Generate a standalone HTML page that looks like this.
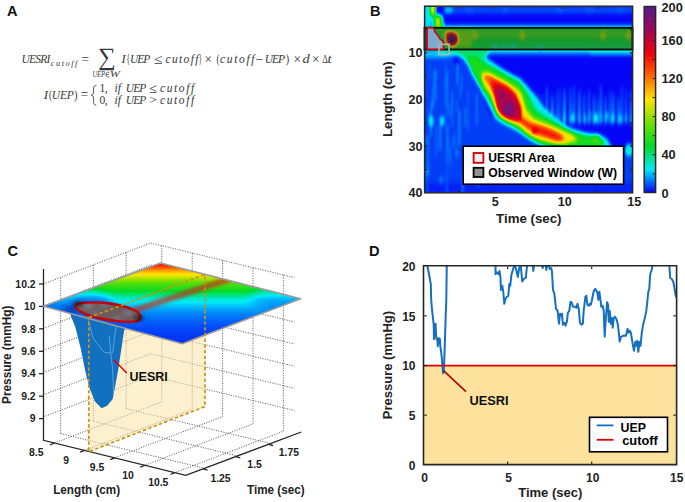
<!DOCTYPE html><html><head><meta charset="utf-8"><style>html,body{margin:0;padding:0;background:#fff;overflow:hidden}svg{display:block}</style></head><body><svg width="685" height="502" viewBox="0 0 685 502"><defs>
<filter id="jetB" filterUnits="userSpaceOnUse" x="400" y="-20" width="260" height="240" color-interpolation-filters="sRGB"><feGaussianBlur stdDeviation="1.25 2.2"/><feComponentTransfer><feFuncR type="table" tableValues="0.020 0.000 0.000 0.450 1.000 1.000 0.950 0.620 0.360"/><feFuncG type="table" tableValues="0.020 0.920 0.860 0.880 0.900 0.400 0.000 0.030 0.100"/><feFuncB type="table" tableValues="0.970 0.980 0.150 0.000 0.000 0.000 0.050 0.350 0.550"/></feComponentTransfer></filter>
<filter id="blB" x="-50%" y="-50%" width="200%" height="200%"><feGaussianBlur stdDeviation="1.2"/></filter>
<clipPath id="clipB"><rect x="425" y="7" width="207" height="185"/></clipPath>
<linearGradient id="cbar" x1="0" y1="1" x2="0" y2="0"><stop offset="0.000" stop-color="rgb(5,5,247)"/><stop offset="0.125" stop-color="rgb(0,234,249)"/><stop offset="0.250" stop-color="rgb(0,219,38)"/><stop offset="0.375" stop-color="rgb(114,224,0)"/><stop offset="0.500" stop-color="rgb(255,229,0)"/><stop offset="0.625" stop-color="rgb(255,102,0)"/><stop offset="0.750" stop-color="rgb(242,0,12)"/><stop offset="0.875" stop-color="rgb(158,7,89)"/><stop offset="1.000" stop-color="rgb(91,25,140)"/></linearGradient>
<clipPath id="clipD"><rect x="424" y="266" width="252" height="199"/></clipPath>
</defs>
<rect width="685" height="502" fill="#fff"/>
<text x="7.0" y="16.1" font-size="14.6" text-anchor="start" fill="#111" font-family="Liberation Sans, sans-serif" font-weight="bold" >A</text>
<text x="21.6" y="63.2" font-size="11.5" fill="#383838" font-family="Liberation Serif, serif" font-style="italic" textLength="28.8" lengthAdjust="spacing">UESRI</text>
<text x="121.4" y="63.2" font-size="11.5" fill="#383838" font-family="Liberation Serif, serif" font-style="italic" textLength="4.2" lengthAdjust="spacingAndGlyphs">I</text>
<text x="130.0" y="63.2" font-size="11.5" fill="#383838" font-family="Liberation Serif, serif" font-style="italic" textLength="20.3" lengthAdjust="spacing">UEP</text>
<text x="165.6" y="63.2" font-size="11.5" fill="#383838" font-family="Liberation Serif, serif" font-style="italic" textLength="32.8" lengthAdjust="spacing">cutoff</text>
<text x="220.0" y="63.2" font-size="11.5" fill="#383838" font-family="Liberation Serif, serif" font-style="italic" textLength="34.5" lengthAdjust="spacing">cutoff</text>
<text x="264.8" y="63.2" font-size="11.5" fill="#383838" font-family="Liberation Serif, serif" font-style="italic" textLength="20.2" lengthAdjust="spacing">UEP</text>
<text x="302.6" y="63.2" font-size="11.5" fill="#383838" font-family="Liberation Serif, serif" font-style="italic" textLength="7.2" lengthAdjust="spacingAndGlyphs">d</text>
<text x="327.6" y="63.2" font-size="11.5" fill="#383838" font-family="Liberation Serif, serif" font-style="italic" textLength="4.0" lengthAdjust="spacingAndGlyphs">t</text>
<text x="126.6" y="63.2" font-size="11.5" fill="#383838" font-family="Liberation Serif, serif" textLength="3.4" lengthAdjust="spacingAndGlyphs">{</text>
<text x="198.8" y="63.2" font-size="11.5" fill="#383838" font-family="Liberation Serif, serif" textLength="3.2" lengthAdjust="spacingAndGlyphs">}</text>
<text x="216.4" y="63.2" font-size="11.5" fill="#383838" font-family="Liberation Serif, serif" textLength="3.0" lengthAdjust="spacingAndGlyphs">(</text>
<text x="285.8" y="63.2" font-size="11.5" fill="#383838" font-family="Liberation Serif, serif" textLength="3.4" lengthAdjust="spacingAndGlyphs">)</text>
<text x="322.2" y="63.2" font-size="11.5" fill="#383838" font-family="Liberation Serif, serif" textLength="5.6" lengthAdjust="spacingAndGlyphs">&#916;</text>
<text x="154.0" y="63.8" font-size="14.0" fill="#383838" font-family="Liberation Serif, serif" textLength="8.5" lengthAdjust="spacingAndGlyphs">&#8804;</text>
<text x="204.6" y="63.8" font-size="14.0" fill="#383838" font-family="Liberation Serif, serif" textLength="7.4" lengthAdjust="spacingAndGlyphs">&#215;</text>
<text x="255.8" y="63.8" font-size="14.0" fill="#383838" font-family="Liberation Serif, serif" textLength="7.4" lengthAdjust="spacingAndGlyphs">&#8722;</text>
<text x="293.5" y="63.8" font-size="14.0" fill="#383838" font-family="Liberation Serif, serif" textLength="7.5" lengthAdjust="spacingAndGlyphs">&#215;</text>
<text x="312.0" y="63.8" font-size="14.0" fill="#383838" font-family="Liberation Serif, serif" textLength="7.5" lengthAdjust="spacingAndGlyphs">&#215;</text>
<text x="81.4" y="63.7" font-size="14.0" fill="#383838" font-family="Liberation Serif, serif" textLength="7.4" lengthAdjust="spacingAndGlyphs">=</text>
<text x="50.8" y="66.0" font-size="8.3" fill="#383838" font-family="Liberation Serif, serif" font-style="italic" textLength="26.6" lengthAdjust="spacing">cutoff</text>
<text x="98.0" y="65.2" font-size="24.9" fill="#383838" font-family="Liberation Serif, serif">&#8721;</text>
<text x="92.4" y="76.9" font-size="7.8" fill="#383838" font-family="Liberation Serif, serif" font-style="italic" textLength="12.6" lengthAdjust="spacingAndGlyphs">UEP</text>
<text x="109.8" y="76.9" font-size="7.8" fill="#383838" font-family="Liberation Serif, serif" font-style="italic" textLength="10.2" lengthAdjust="spacingAndGlyphs">W</text>
<path d="M109.4,72.3 H107.7 C106.4,72.3 105.9,73.5 105.9,74.6 C105.9,75.7 106.4,76.9 107.7,76.9 H109.4 M106.0,74.6 H109.0" fill="none" stroke="#383838" stroke-width="0.75"/>
<text x="43.8" y="98.7" font-size="11.5" fill="#383838" font-family="Liberation Serif, serif" font-style="italic" textLength="4.4" lengthAdjust="spacingAndGlyphs">I</text>
<text x="48.9" y="98.7" font-size="11.5" fill="#383838" font-family="Liberation Serif, serif" textLength="3.0" lengthAdjust="spacingAndGlyphs">(</text>
<text x="51.8" y="98.7" font-size="11.5" fill="#383838" font-family="Liberation Serif, serif" font-style="italic" textLength="21.9" lengthAdjust="spacing">UEP</text>
<text x="73.9" y="98.7" font-size="11.5" fill="#383838" font-family="Liberation Serif, serif" textLength="3.5" lengthAdjust="spacingAndGlyphs">)</text>
<text x="80.7" y="99.2" font-size="14.0" fill="#383838" font-family="Liberation Serif, serif" textLength="7.4" lengthAdjust="spacingAndGlyphs">=</text>
<path d="M96.3,85.3 C93.2,85.6 93.6,88 93.6,91 C93.6,93.6 93.2,95 91.2,95.3 C93.2,95.6 93.6,97 93.6,99.6 C93.6,102.6 93.2,104.9 96.3,105.2" fill="none" stroke="#383838" stroke-width="0.9"/>
<text x="99.4" y="92.1" font-size="11.5" fill="#383838" font-family="Liberation Serif, serif" textLength="8.3" lengthAdjust="spacing">1,</text>
<text x="114.6" y="92.1" font-size="11.5" fill="#383838" font-family="Liberation Serif, serif" font-style="italic">if</text>
<text x="125.8" y="92.1" font-size="11.5" fill="#383838" font-family="Liberation Serif, serif" font-style="italic" textLength="20.5" lengthAdjust="spacing">UEP</text>
<text x="149.3" y="92.6" font-size="13.5" fill="#383838" font-family="Liberation Serif, serif" textLength="7.5" lengthAdjust="spacingAndGlyphs">&#8804;</text>
<text x="160.0" y="92.1" font-size="11.5" fill="#383838" font-family="Liberation Serif, serif" font-style="italic" textLength="34.2" lengthAdjust="spacing">cutoff</text>
<text x="99.4" y="103.8" font-size="11.5" fill="#383838" font-family="Liberation Serif, serif" textLength="8.3" lengthAdjust="spacing">0,</text>
<text x="114.6" y="103.8" font-size="11.5" fill="#383838" font-family="Liberation Serif, serif" font-style="italic">if</text>
<text x="125.8" y="103.8" font-size="11.5" fill="#383838" font-family="Liberation Serif, serif" font-style="italic" textLength="20.5" lengthAdjust="spacing">UEP</text>
<text x="149.3" y="104.3" font-size="13.5" fill="#383838" font-family="Liberation Serif, serif" textLength="7.5" lengthAdjust="spacingAndGlyphs">&gt;</text>
<text x="160.0" y="103.8" font-size="11.5" fill="#383838" font-family="Liberation Serif, serif" font-style="italic" textLength="34.2" lengthAdjust="spacing">cutoff</text>
<text x="370.0" y="16.2" font-size="14.6" text-anchor="start" fill="#111" font-family="Liberation Sans, sans-serif" font-weight="bold" >B</text>
<g clip-path="url(#clipB)"><g filter="url(#jetB)">
<rect x="405" y="-15" width="250" height="225" fill="#000000"/>
<polygon points="405.0,50.0 452.0,50.0 468.0,65.0 480.0,90.0 490.0,115.0 505.0,126.0 530.0,140.0 560.0,150.0 640.0,150.0 640.0,210.0 405.0,210.0" fill="#080808"/>
<rect x="405" y="183" width="250" height="30" fill="#040404"/>
<rect x="443.8" y="74.1" width="1.8" height="29.5" fill="#0c0c0c"/>
<rect x="456.1" y="99.9" width="1.8" height="11.7" fill="#101010"/>
<rect x="427.2" y="108.0" width="1.8" height="12.1" fill="#0c0c0c"/>
<rect x="449.6" y="155.2" width="1.8" height="13.7" fill="#0d0d0d"/>
<rect x="461.4" y="169.7" width="1.8" height="27.3" fill="#0f0f0f"/>
<rect x="481.6" y="61.6" width="1.8" height="35.8" fill="#0e0e0e"/>
<rect x="433.4" y="70.1" width="1.8" height="19.3" fill="#131313"/>
<rect x="435.5" y="125.8" width="1.8" height="29.2" fill="#0f0f0f"/>
<rect x="456.8" y="63.5" width="1.8" height="11.8" fill="#0d0d0d"/>
<rect x="464.5" y="107.3" width="1.8" height="19.4" fill="#111111"/>
<rect x="451.3" y="92.0" width="1.8" height="33.8" fill="#121212"/>
<rect x="439.2" y="124.9" width="1.8" height="25.8" fill="#131313"/>
<rect x="467.3" y="90.6" width="1.8" height="39.4" fill="#0d0d0d"/>
<rect x="449.3" y="146.9" width="1.8" height="14.6" fill="#101010"/>
<rect x="427.3" y="136.2" width="1.8" height="32.9" fill="#111111"/>
<rect x="475.8" y="93.6" width="1.8" height="30.9" fill="#111111"/>
<rect x="458.6" y="110.7" width="1.8" height="35.2" fill="#141414"/>
<rect x="452.5" y="135.7" width="1.8" height="11.8" fill="#121212"/>
<rect x="462.5" y="175.2" width="1.8" height="34.7" fill="#0e0e0e"/>
<rect x="447.4" y="136.2" width="1.8" height="10.7" fill="#101010"/>
<rect x="434.7" y="70.1" width="1.8" height="11.8" fill="#121212"/>
<rect x="432.5" y="85.7" width="1.8" height="21.7" fill="#131313"/>
<rect x="429.7" y="109.9" width="1.8" height="26.5" fill="#131313"/>
<rect x="472.5" y="159.7" width="1.8" height="18.4" fill="#0f0f0f"/>
<rect x="445.8" y="162.1" width="1.8" height="38.7" fill="#0d0d0d"/>
<rect x="435.2" y="83.8" width="1.8" height="17.0" fill="#101010"/>
<rect x="459.2" y="87.5" width="1.8" height="10.1" fill="#0f0f0f"/>
<rect x="446.4" y="124.0" width="1.8" height="38.6" fill="#121212"/>
<rect x="454.9" y="130.1" width="1.8" height="30.3" fill="#0c0c0c"/>
<rect x="477.2" y="149.6" width="1.8" height="36.2" fill="#131313"/>
<rect x="447.8" y="103.9" width="1.8" height="13.1" fill="#111111"/>
<rect x="428.6" y="64.1" width="1.8" height="16.3" fill="#0d0d0d"/>
<rect x="444.7" y="62.3" width="1.8" height="10.0" fill="#0d0d0d"/>
<rect x="430.9" y="99.6" width="1.8" height="10.8" fill="#131313"/>
<rect x="460.6" y="73.8" width="1.8" height="17.6" fill="#0f0f0f"/>
<rect x="446.1" y="70.7" width="1.8" height="35.5" fill="#141414"/>
<rect x="452.0" y="114.1" width="1.8" height="12.6" fill="#0c0c0c"/>
<rect x="444.9" y="87.8" width="1.8" height="34.9" fill="#0d0d0d"/>
<rect x="426.3" y="170.1" width="1.8" height="25.8" fill="#0d0d0d"/>
<rect x="456.5" y="59.2" width="1.8" height="25.8" fill="#141414"/>
<linearGradient id="strk" x1="0" y1="0" x2="0" y2="1"><stop offset="0" stop-color="#080808"/><stop offset="0.55" stop-color="#171717"/><stop offset="1" stop-color="#2b2b2b"/></linearGradient>
<rect x="537.0" y="93.1" width="2.6" height="31.4" fill="url(#strk)" fill-opacity="0.70"/>
<rect x="541.4" y="94.4" width="1.7" height="30.1" fill="url(#strk)" fill-opacity="0.81"/>
<rect x="545.9" y="85.6" width="1.9" height="38.9" fill="url(#strk)" fill-opacity="0.92"/>
<rect x="551.0" y="94.9" width="2.6" height="29.6" fill="url(#strk)" fill-opacity="0.93"/>
<rect x="556.2" y="90.3" width="1.8" height="34.2" fill="url(#strk)" fill-opacity="0.74"/>
<rect x="559.1" y="86.5" width="1.5" height="38.0" fill="url(#strk)" fill-opacity="0.70"/>
<rect x="563.1" y="89.2" width="2.7" height="35.3" fill="url(#strk)" fill-opacity="0.97"/>
<rect x="569.0" y="87.8" width="2.7" height="36.7" fill="url(#strk)" fill-opacity="0.69"/>
<rect x="573.3" y="85.3" width="1.8" height="39.2" fill="url(#strk)" fill-opacity="0.85"/>
<rect x="578.0" y="89.7" width="2.6" height="34.8" fill="url(#strk)" fill-opacity="0.86"/>
<rect x="583.4" y="92.6" width="1.6" height="31.9" fill="url(#strk)" fill-opacity="0.96"/>
<rect x="587.7" y="89.6" width="2.5" height="34.9" fill="url(#strk)" fill-opacity="0.67"/>
<rect x="592.9" y="94.8" width="1.9" height="29.7" fill="url(#strk)" fill-opacity="0.99"/>
<rect x="596.7" y="97.1" width="2.0" height="27.4" fill="url(#strk)" fill-opacity="0.89"/>
<rect x="600.1" y="84.4" width="1.7" height="40.1" fill="url(#strk)" fill-opacity="0.96"/>
<rect x="604.5" y="95.2" width="1.7" height="29.3" fill="url(#strk)" fill-opacity="0.99"/>
<rect x="608.7" y="90.8" width="2.0" height="33.7" fill="url(#strk)" fill-opacity="0.65"/>
<rect x="611.7" y="92.4" width="2.8" height="32.1" fill="url(#strk)" fill-opacity="0.81"/>
<rect x="617.5" y="95.9" width="2.1" height="28.6" fill="url(#strk)" fill-opacity="0.93"/>
<rect x="621.0" y="86.7" width="1.8" height="37.8" fill="url(#strk)" fill-opacity="0.70"/>
<rect x="625.1" y="88.7" width="1.8" height="35.8" fill="url(#strk)" fill-opacity="0.65"/>
<rect x="630.0" y="89.3" width="2.0" height="35.2" fill="url(#strk)" fill-opacity="0.83"/>
<ellipse cx="573.0" cy="118.0" rx="1.4" ry="4.5" fill="#212121"/>
<ellipse cx="579.0" cy="117.0" rx="1.4" ry="4.5" fill="#1a1a1a"/>
<ellipse cx="585.0" cy="119.0" rx="1.4" ry="4.5" fill="#1c1c1c"/>
<ellipse cx="596.0" cy="118.0" rx="1.4" ry="4.5" fill="#242424"/>
<ellipse cx="601.0" cy="117.0" rx="1.4" ry="4.5" fill="#1f1f1f"/>
<ellipse cx="613.0" cy="118.0" rx="1.4" ry="4.5" fill="#242424"/>
<ellipse cx="620.0" cy="119.0" rx="1.4" ry="4.5" fill="#1c1c1c"/>
<ellipse cx="590.0" cy="116.0" rx="1.4" ry="4.5" fill="#171717"/>
<ellipse cx="607.0" cy="116.0" rx="1.4" ry="4.5" fill="#1a1a1a"/>
<ellipse cx="626.0" cy="118.0" rx="1.4" ry="4.5" fill="#1a1a1a"/>
<rect x="443" y="6" width="200" height="7.5" fill="#0a0a0a"/>
<ellipse cx="448.8" cy="10" rx="4.2" ry="3.2" fill="#1c1c1c"/>
<ellipse cx="470" cy="10" rx="5" ry="3" fill="#0d0d0d"/>
<ellipse cx="505" cy="10" rx="5" ry="3" fill="#0d0d0d"/>
<ellipse cx="560" cy="10" rx="5" ry="3" fill="#0d0d0d"/>
<ellipse cx="590" cy="10" rx="5" ry="3" fill="#0d0d0d"/>
<ellipse cx="620" cy="10" rx="5" ry="3" fill="#0d0d0d"/>
<rect x="440" y="24.5" width="200" height="3" fill="#0e0e0e"/>
<rect x="440" y="50" width="200" height="5" fill="#121212"/>
<rect x="590" y="50" width="50" height="5" fill="#1a1a1a"/>
<polygon points="563,123.5 640,123.5 640,143 608,143 600,133.5 575,133.5 566,130" fill="#000000"/>
<ellipse cx="431" cy="121" rx="2.6" ry="6" fill="#212121"/>
<ellipse cx="442" cy="121" rx="2.6" ry="5" fill="#1f1f1f"/>
<ellipse cx="457" cy="153" rx="2.5" ry="4" fill="#0f0f0f"/>
<ellipse cx="427" cy="172" rx="2.5" ry="4" fill="#131313"/>
<ellipse cx="441" cy="180" rx="2.5" ry="4" fill="#0f0f0f"/>
<ellipse cx="426" cy="140" rx="2.5" ry="4" fill="#0f0f0f"/>
<rect x="405" y="-10" width="26.5" height="38" fill="#1f1f1f"/>
<rect x="430" y="-10" width="5.5" height="26" fill="#4c4c4c"/>
<rect x="431.2" y="-10" width="3.3" height="24.5" fill="#808080"/>
<polygon points="431,16 436,15 443,16 445,28 432,28" fill="#1f1f1f"/>
<polygon points="433.5,15.5 441,16 442.5,28 434.5,28" fill="#4c4c4c"/>
<polygon points="435.8,17 439.6,17 440.2,27 436.4,27" fill="#737373"/>
<ellipse cx="456.4" cy="60.8" rx="3" ry="3" fill="#000000"/>
<polygon points="424,50 470,50 462,54 446,57.5 424,58" fill="#1a1a1a"/>
<polygon points="436,50 462,50 456,54 444,55.5 438,55" fill="#262626"/>
<polygon points="444.0,50.0 478.5,50.0 478.5,51.5 489.0,59.7 500.7,67.9 512.4,74.9 520.0,78.4 527.0,86.0 534.9,95.0 543.0,106.7 552.4,114.9 558.0,119.5 563.0,124.0 570.0,128.0 585.0,133.0 600.0,135.0 607.0,139.0 611.0,146.0 612.0,152.0 560.0,152.0 545.4,147.0 536.0,142.9 524.4,135.9 515.0,130.0 503.4,124.2 495.2,118.4 489.3,106.7 483.5,95.0 480.9,90.0 476.2,81.9 471.5,73.7 468.0,65.5 463.4,58.5 451.7,51.5" fill="#242424"/>
<polygon points="450,50 490,50 486,56 479,61 468,63 461,56" fill="#333333"/>
<polygon points="467.0,57.0 477.0,57.0 480.0,60.0 489.0,65.5 501.9,72.5 514.7,79.5 520.0,83.0 527.9,95.0 534.9,110.2 545.4,117.2 554.0,122.0 562.0,127.0 572.0,132.5 590.0,136.0 600.0,138.0 604.0,141.0 602.0,147.0 570.0,147.0 541.9,144.0 530.2,138.2 522.0,131.2 510.4,124.2 497.5,117.2 492.8,106.7 487.0,95.0 483.2,91.2 478.5,81.9 472.7,71.4 468.5,61.0" fill="#474747"/>
<ellipse cx="596" cy="139" rx="4" ry="3.5" fill="#545454"/>
<ellipse cx="629" cy="150" rx="4" ry="6" fill="#242424"/>
<polygon points="482.0,72.5 486.7,72.0 500.7,78.4 512.4,85.4 520.0,91.0 522.0,95.0 526.7,110.2 533.7,118.4 545.4,123.0 560.0,128.9 572.0,134.0 578.0,140.0 565.0,144.5 554.7,144.0 538.4,139.4 526.7,133.5 518.5,125.4 503.4,118.4 496.4,110.2 490.5,95.0 484.4,86.5 480.9,74.9" fill="#808080"/>
<polygon points="486.0,75.5 492.0,76.5 496.0,79.5 507.7,85.4 516.0,94.0 519.5,106.7 521.5,117.2 530.2,123.0 543.0,126.5 554.7,131.2 561.0,135.0 565.0,139.5 558.0,141.0 555.9,140.5 538.4,134.7 529.0,128.9 520.9,123.0 509.2,119.5 499.5,112.5 494.0,95.0 489.5,84.0 485.0,78.4" fill="#b8b8b8"/>
<ellipse cx="488.5" cy="78" rx="4.5" ry="3.5" fill="#a3a3a3"/>
<polygon points="493.5,85.0 503.0,87.0 512.0,93.0 518.0,100.0 521.0,108.0 521.5,117.0 517.0,120.5 510.0,120.0 501.0,115.0 497.5,109.0 495.5,99.0" fill="#d6d6d6"/>
<ellipse cx="534.9" cy="131.2" rx="3" ry="2.5" fill="#d6d6d6"/>
<ellipse cx="508.5" cy="109" rx="5.5" ry="7" fill="#f2f2f2"/>
<ellipse cx="502" cy="96" rx="3" ry="4" fill="#e6e6e6"/>
<rect x="405" y="28" width="250" height="10" fill="#4f4f4f"/>
<rect x="405" y="38" width="250" height="12" fill="#3e3e3e"/>
<rect x="458" y="28" width="14" height="20" fill="#5c5c5c"/>
<ellipse cx="495.0" cy="46.5" rx="3.5" ry="2" fill="#2b2b2b"/>
<ellipse cx="505.0" cy="47.0" rx="3.5" ry="2" fill="#2b2b2b"/>
<ellipse cx="514.0" cy="46.5" rx="3.5" ry="2" fill="#2b2b2b"/>
<ellipse cx="540.0" cy="47.5" rx="3.5" ry="2" fill="#2b2b2b"/>
<ellipse cx="475.0" cy="35" rx="3" ry="5" fill="#6b6b6b"/>
<ellipse cx="522.6" cy="35" rx="3" ry="5" fill="#6b6b6b"/>
<ellipse cx="603.0" cy="35" rx="3" ry="5" fill="#6b6b6b"/>
<ellipse cx="628.6" cy="35" rx="3" ry="5" fill="#6b6b6b"/>
<polygon points="424,28 434,28 444,42 444,50 424,50" fill="#121212"/>
<path d="M444.5,36 C444,31 449,30.5 452,31 C457,31.5 459.5,35 459,40 C458.8,44 457,47 452.5,47 C448.5,47 445.5,44 445,41 Z" fill="#999999"/>
<path d="M446.5,36.5 C446.5,33 449.5,32.5 452,33 C456,33.5 457.5,36 457,40 C456.8,43 455.5,45 452.5,45 C449.5,45 447.5,43 447,40.5 Z" fill="#d6d6d6"/>
<ellipse cx="452" cy="39.6" rx="3.6" ry="4.3" fill="#ffffff"/>
</g></g>
<rect x="425" y="28" width="207" height="21.5" fill="#383838" fill-opacity="0.4"/>
<rect x="424.5" y="27.8" width="208" height="21.7" fill="none" stroke="#000" stroke-width="1.8"/>
<ellipse cx="452" cy="39.6" rx="3.5" ry="4" fill="#100020" fill-opacity="0.35" filter="url(#blB)"/>
<polygon points="427.1,27.7 433.5,27.7 434.5,30.8 435.5,32.5 438.2,35.8 440.3,39.2 442.3,40.6 443.3,42.3 443.7,49.4 427.1,49.4" fill="#e8ecf0" fill-opacity="0.5" stroke="#d40000" stroke-width="1.7"/>
<rect x="438.9" y="44.3" width="10.2" height="10.2" fill="none" stroke="#b0b0b0" stroke-width="1.6"/>
<rect x="424.6" y="6.2" width="208" height="186.6" fill="none" stroke="#262626" stroke-width="1.5"/>
<line x1="458.9" y1="192" x2="458.9" y2="190" stroke="#262626" stroke-width="1.2"/>
<line x1="458.9" y1="7" x2="458.9" y2="9" stroke="#262626" stroke-width="1.2"/>
<line x1="493.1" y1="192" x2="493.1" y2="190" stroke="#262626" stroke-width="1.2"/>
<line x1="493.1" y1="7" x2="493.1" y2="9" stroke="#262626" stroke-width="1.2"/>
<line x1="528.0" y1="192" x2="528.0" y2="190" stroke="#262626" stroke-width="1.2"/>
<line x1="528.0" y1="7" x2="528.0" y2="9" stroke="#262626" stroke-width="1.2"/>
<line x1="562.7" y1="192" x2="562.7" y2="190" stroke="#262626" stroke-width="1.2"/>
<line x1="562.7" y1="7" x2="562.7" y2="9" stroke="#262626" stroke-width="1.2"/>
<line x1="597.5" y1="192" x2="597.5" y2="190" stroke="#262626" stroke-width="1.2"/>
<line x1="597.5" y1="7" x2="597.5" y2="9" stroke="#262626" stroke-width="1.2"/>
<line x1="425" y1="29.4" x2="427" y2="29.4" stroke="#262626" stroke-width="1.2"/>
<line x1="632" y1="29.4" x2="630" y2="29.4" stroke="#262626" stroke-width="1.2"/>
<line x1="425" y1="52.8" x2="427" y2="52.8" stroke="#262626" stroke-width="1.2"/>
<line x1="632" y1="52.8" x2="630" y2="52.8" stroke="#262626" stroke-width="1.2"/>
<line x1="425" y1="76.1" x2="427" y2="76.1" stroke="#262626" stroke-width="1.2"/>
<line x1="632" y1="76.1" x2="630" y2="76.1" stroke="#262626" stroke-width="1.2"/>
<line x1="425" y1="99.5" x2="427" y2="99.5" stroke="#262626" stroke-width="1.2"/>
<line x1="632" y1="99.5" x2="630" y2="99.5" stroke="#262626" stroke-width="1.2"/>
<line x1="425" y1="122.9" x2="427" y2="122.9" stroke="#262626" stroke-width="1.2"/>
<line x1="632" y1="122.9" x2="630" y2="122.9" stroke="#262626" stroke-width="1.2"/>
<line x1="425" y1="146.2" x2="427" y2="146.2" stroke="#262626" stroke-width="1.2"/>
<line x1="632" y1="146.2" x2="630" y2="146.2" stroke="#262626" stroke-width="1.2"/>
<line x1="425" y1="169.6" x2="427" y2="169.6" stroke="#262626" stroke-width="1.2"/>
<line x1="632" y1="169.6" x2="630" y2="169.6" stroke="#262626" stroke-width="1.2"/>
<text x="422.5" y="57.1" font-size="12.6" text-anchor="end" fill="#222" font-family="Liberation Sans, sans-serif" font-weight="bold" >10</text>
<text x="422.5" y="103.9" font-size="12.6" text-anchor="end" fill="#222" font-family="Liberation Sans, sans-serif" font-weight="bold" >20</text>
<text x="422.5" y="150.7" font-size="12.6" text-anchor="end" fill="#222" font-family="Liberation Sans, sans-serif" font-weight="bold" >30</text>
<text x="422.5" y="197.4" font-size="12.6" text-anchor="end" fill="#222" font-family="Liberation Sans, sans-serif" font-weight="bold" >40</text>
<text x="495.2" y="206.0" font-size="12.6" text-anchor="middle" fill="#222" font-family="Liberation Sans, sans-serif" font-weight="bold" >5</text>
<text x="564.8" y="206.0" font-size="12.6" text-anchor="middle" fill="#222" font-family="Liberation Sans, sans-serif" font-weight="bold" >10</text>
<text x="634.2" y="206.0" font-size="12.6" text-anchor="middle" fill="#222" font-family="Liberation Sans, sans-serif" font-weight="bold" >15</text>
<text x="528.8" y="223.3" font-size="12.8" text-anchor="middle" fill="#222" font-family="Liberation Sans, sans-serif" font-weight="bold" textLength="65.4" lengthAdjust="spacingAndGlyphs">Time (sec)</text>
<text x="0.0" y="0.0" font-size="12.8" text-anchor="middle" fill="#222" font-family="Liberation Sans, sans-serif" font-weight="bold" transform="translate(392.4,99.2) rotate(-90)" textLength="75.5" lengthAdjust="spacingAndGlyphs">Length (cm)</text>
<rect x="463.2" y="146.2" width="160.4" height="38" fill="#fff" stroke="#000" stroke-width="1.6"/>
<rect x="473.6" y="153" width="9.8" height="9.8" fill="#f3eaea" stroke="#cc0000" stroke-width="1.8"/>
<rect x="473.6" y="167.8" width="9.8" height="9.2" fill="#939393" stroke="#000" stroke-width="1.8"/>
<text x="488.2" y="161.8" font-size="12.6" text-anchor="start" font-family="Liberation Sans, sans-serif" font-weight="bold" textLength="66.6" lengthAdjust="spacingAndGlyphs" fill="#000">UESRI Area</text>
<text x="488.2" y="176.6" font-size="12.6" text-anchor="start" font-family="Liberation Sans, sans-serif" font-weight="bold" textLength="128.8" lengthAdjust="spacingAndGlyphs" fill="#000">Observed Window (W)</text>
<rect x="644.2" y="6.5" width="11.4" height="186" fill="url(#cbar)" stroke="#262626" stroke-width="1.5"/>
<line x1="654.8" y1="173.8" x2="652.6" y2="173.8" stroke="#262626" stroke-width="1.1"/>
<line x1="654.8" y1="154.7" x2="652.6" y2="154.7" stroke="#262626" stroke-width="1.1"/>
<line x1="654.8" y1="135.7" x2="652.6" y2="135.7" stroke="#262626" stroke-width="1.1"/>
<line x1="654.8" y1="116.6" x2="652.6" y2="116.6" stroke="#262626" stroke-width="1.1"/>
<line x1="654.8" y1="97.6" x2="652.6" y2="97.6" stroke="#262626" stroke-width="1.1"/>
<line x1="654.8" y1="78.5" x2="652.6" y2="78.5" stroke="#262626" stroke-width="1.1"/>
<line x1="654.8" y1="59.5" x2="652.6" y2="59.5" stroke="#262626" stroke-width="1.1"/>
<line x1="654.8" y1="40.4" x2="652.6" y2="40.4" stroke="#262626" stroke-width="1.1"/>
<line x1="654.8" y1="21.3" x2="652.6" y2="21.3" stroke="#262626" stroke-width="1.1"/>
<text x="661.5" y="198.1" font-size="12.8" text-anchor="start" fill="#222" font-family="Liberation Sans, sans-serif" font-weight="bold" >0</text>
<text x="661.5" y="159.4" font-size="12.8" text-anchor="start" fill="#222" font-family="Liberation Sans, sans-serif" font-weight="bold" >40</text>
<text x="661.5" y="121.3" font-size="12.8" text-anchor="start" fill="#222" font-family="Liberation Sans, sans-serif" font-weight="bold" >80</text>
<text x="661.5" y="83.2" font-size="12.8" text-anchor="start" fill="#222" font-family="Liberation Sans, sans-serif" font-weight="bold" >120</text>
<text x="661.5" y="45.2" font-size="12.8" text-anchor="start" fill="#222" font-family="Liberation Sans, sans-serif" font-weight="bold" >160</text>
<text x="661.5" y="11.8" font-size="12.8" text-anchor="start" fill="#222" font-family="Liberation Sans, sans-serif" font-weight="bold" >200</text>
<text x="369.0" y="255.6" font-size="14.6" text-anchor="start" fill="#111" font-family="Liberation Sans, sans-serif" font-weight="bold" >D</text>
<rect x="424" y="365.5" width="252" height="99" fill="#fce29c"/>
<g clip-path="url(#clipD)"><polyline points="426.7,262.0 427.5,266.5 428.4,270.8 430.8,284.0 431.2,300.0 432.0,309.6 433.1,319.1 433.7,324.7 434.0,339.0 434.7,325.5 435.1,323.9 435.6,323.9 435.9,331.9 436.4,339.0 437.2,338.2 437.8,346.2 438.5,341.4 439.1,338.2 439.9,339.0 440.4,347.0 441.0,351.0 441.8,357.4 442.6,368.5 443.1,373.3 443.9,370.1 444.2,362.2 444.7,347.8 445.2,331.9 445.8,312.7 446.3,300.0 446.8,262.0 495.5,262.0 495.5,274.3 496.9,272.3 498.3,274.3 499.5,271.0 500.5,278.0 500.9,289.9 502.3,285.9 503.3,291.8 504.3,303.8 505.5,298.8 506.9,296.8 508.3,295.8 509.3,283.9 510.2,285.9 511.4,274.9 512.8,270.0 514.2,266.0 515.8,268.0 517.8,276.9 519.2,268.0 520.8,266.0 522.2,281.5 523.8,278.9 525.8,277.9 527.2,264.0 532.7,264.0 533.3,271.0 534.1,264.0 541.7,264.0 542.7,268.0 543.5,264.0 545.7,264.0 546.3,270.0 547.5,264.0 548.7,264.0 549.7,269.0 551.2,268.0 552.0,272.0 553.0,289.9 554.4,293.8 556.0,308.8 557.6,310.7 559.0,323.7 560.0,313.7 561.0,315.7 562.0,313.7 562.9,324.7 564.3,322.7 565.5,325.7 566.9,321.7 567.9,312.7 569.3,310.7 570.5,301.8 571.9,302.8 572.9,306.8 574.9,306.8 576.3,307.8 577.5,303.8 578.9,309.8 579.9,322.7 581.4,324.7 582.8,323.7 583.8,309.8 585.4,296.8 586.4,295.8 587.4,304.8 588.8,305.8 589.8,303.8 590.8,304.8 591.8,300.8 592.8,295.8 593.8,290.8 595.2,288.9 596.4,290.8 597.4,292.8 598.4,299.8 599.4,291.8 600.1,296.8 601.3,306.8 602.7,305.8 603.7,310.7 604.7,336.6 605.7,319.7 607.1,302.2 608.1,304.8 608.7,321.7 609.7,310.7 610.7,323.7 611.7,317.7 612.7,327.7 613.7,318.7 614.7,316.7 616.3,318.7 617.7,323.7 618.7,331.6 619.7,341.6 621.0,336.8 624.0,335.4 626.0,335.8 627.6,328.8 628.6,332.8 630.0,330.8 631.0,333.4 632.0,339.8 633.0,345.8 634.0,350.8 635.3,341.8 636.3,345.8 637.3,340.8 638.3,351.8 639.5,341.8 640.5,345.8 641.9,331.8 643.3,323.8 644.9,317.8 646.3,310.9 647.5,299.9 648.3,291.9 649.3,288.9 649.9,278.0 650.5,273.0 651.3,271.0 651.9,269.0 652.8,262.0 669.2,262.0 669.4,266.0 670.2,278.0 671.8,279.0 673.4,282.0 674.8,290.0 675.8,296.0 676.6,298.0" fill="none" stroke="#1570bd" stroke-width="2" stroke-linejoin="round"/></g>
<line x1="424" y1="365.6" x2="676" y2="365.6" stroke="#e00000" stroke-width="1.8"/>
<line x1="443.5" y1="370.6" x2="466" y2="391.6" stroke="#b00000" stroke-width="1.6"/>
<text x="469.4" y="405.4" font-size="13.1" text-anchor="start" font-family="Liberation Sans, sans-serif" font-weight="bold" fill="#111" textLength="39.3" lengthAdjust="spacingAndGlyphs">UESRI</text>
<path d="M423.5,265.8 V464.6 H676.6 V265.8 Z" fill="none" stroke="#262626" stroke-width="1.6"/>
<line x1="507.6" y1="464" x2="507.6" y2="461.5" stroke="#262626" stroke-width="1.2"/>
<line x1="507.6" y1="266.5" x2="507.6" y2="269" stroke="#262626" stroke-width="1.2"/>
<line x1="591.7" y1="464" x2="591.7" y2="461.5" stroke="#262626" stroke-width="1.2"/>
<line x1="591.7" y1="266.5" x2="591.7" y2="269" stroke="#262626" stroke-width="1.2"/>
<line x1="424.3" y1="415.2" x2="426.8" y2="415.2" stroke="#262626" stroke-width="1.2"/>
<line x1="675.8" y1="415.2" x2="673.3" y2="415.2" stroke="#262626" stroke-width="1.2"/>
<line x1="424.3" y1="365.5" x2="426.8" y2="365.5" stroke="#262626" stroke-width="1.2"/>
<line x1="675.8" y1="365.5" x2="673.3" y2="365.5" stroke="#262626" stroke-width="1.2"/>
<line x1="424.3" y1="315.8" x2="426.8" y2="315.8" stroke="#262626" stroke-width="1.2"/>
<line x1="675.8" y1="315.8" x2="673.3" y2="315.8" stroke="#262626" stroke-width="1.2"/>
<text x="415.5" y="469.8" font-size="12.0" text-anchor="end" fill="#222" font-family="Liberation Sans, sans-serif" font-weight="bold" >0</text>
<text x="415.5" y="420.1" font-size="12.0" text-anchor="end" fill="#222" font-family="Liberation Sans, sans-serif" font-weight="bold" >5</text>
<text x="415.5" y="370.3" font-size="12.0" text-anchor="end" fill="#222" font-family="Liberation Sans, sans-serif" font-weight="bold" >10</text>
<text x="415.5" y="320.6" font-size="12.0" text-anchor="end" fill="#222" font-family="Liberation Sans, sans-serif" font-weight="bold" >15</text>
<text x="415.5" y="270.8" font-size="12.0" text-anchor="end" fill="#222" font-family="Liberation Sans, sans-serif" font-weight="bold" >20</text>
<text x="424.5" y="481.8" font-size="12.0" text-anchor="middle" fill="#222" font-family="Liberation Sans, sans-serif" font-weight="bold" >0</text>
<text x="508.6" y="481.8" font-size="12.0" text-anchor="middle" fill="#222" font-family="Liberation Sans, sans-serif" font-weight="bold" >5</text>
<text x="592.7" y="481.8" font-size="12.0" text-anchor="middle" fill="#222" font-family="Liberation Sans, sans-serif" font-weight="bold" >10</text>
<text x="676.8" y="481.8" font-size="12.0" text-anchor="middle" fill="#222" font-family="Liberation Sans, sans-serif" font-weight="bold" >15</text>
<text x="550.3" y="496.9" font-size="12.8" text-anchor="middle" fill="#222" font-family="Liberation Sans, sans-serif" font-weight="bold" textLength="64.2" lengthAdjust="spacingAndGlyphs">Time (sec)</text>
<text x="0.0" y="0.0" font-size="13.0" text-anchor="middle" fill="#222" font-family="Liberation Sans, sans-serif" font-weight="bold" transform="translate(392.2,365.1) rotate(-90)" textLength="108.3" lengthAdjust="spacingAndGlyphs">Pressure (mmHg)</text>
<rect x="589.5" y="417.3" width="78" height="34.5" fill="#fff" stroke="#000" stroke-width="1.6"/>
<line x1="596.8" y1="425.4" x2="613.5" y2="425.4" stroke="#0d6fbd" stroke-width="1.8"/>
<line x1="596.8" y1="439.8" x2="613.5" y2="439.8" stroke="#e00000" stroke-width="1.8"/>
<text x="620.6" y="431.5" font-size="12.6" text-anchor="start" font-family="Liberation Sans, sans-serif" font-weight="bold" fill="#000" textLength="25.4" lengthAdjust="spacingAndGlyphs">UEP</text>
<text x="622.2" y="445.0" font-size="12.6" text-anchor="start" font-family="Liberation Sans, sans-serif" font-weight="bold" fill="#000" textLength="35.6" lengthAdjust="spacingAndGlyphs">cutoff</text>
<text x="7.6" y="255.6" font-size="14.6" text-anchor="start" fill="#111" font-family="Liberation Sans, sans-serif" font-weight="bold" >C</text>
<line x1="54.4" y1="443.0" x2="161.8" y2="401.9" stroke="#3a3a3a" stroke-width="0.80" stroke-dasharray="1.1,1.4"/>
<line x1="84.8" y1="450.3" x2="192.2" y2="409.3" stroke="#3a3a3a" stroke-width="0.80" stroke-dasharray="1.1,1.4"/>
<line x1="115.2" y1="457.6" x2="222.6" y2="416.6" stroke="#3a3a3a" stroke-width="0.80" stroke-dasharray="1.1,1.4"/>
<line x1="145.6" y1="465.0" x2="253.0" y2="423.9" stroke="#3a3a3a" stroke-width="0.80" stroke-dasharray="1.1,1.4"/>
<line x1="176.0" y1="472.3" x2="283.4" y2="431.2" stroke="#3a3a3a" stroke-width="0.80" stroke-dasharray="1.1,1.4"/>
<line x1="60.7" y1="433.7" x2="204.4" y2="468.3" stroke="#3a3a3a" stroke-width="0.80" stroke-dasharray="1.1,1.4"/>
<line x1="93.4" y1="421.2" x2="237.1" y2="455.8" stroke="#3a3a3a" stroke-width="0.80" stroke-dasharray="1.1,1.4"/>
<line x1="126.1" y1="408.7" x2="269.8" y2="443.3" stroke="#3a3a3a" stroke-width="0.80" stroke-dasharray="1.1,1.4"/>
<line x1="43.3" y1="416.9" x2="150.7" y2="375.9" stroke="#3a3a3a" stroke-width="0.80" stroke-dasharray="1.1,1.4"/>
<line x1="43.3" y1="394.8" x2="150.7" y2="353.7" stroke="#3a3a3a" stroke-width="0.80" stroke-dasharray="1.1,1.4"/>
<line x1="43.3" y1="372.6" x2="150.7" y2="331.6" stroke="#3a3a3a" stroke-width="0.80" stroke-dasharray="1.1,1.4"/>
<line x1="43.3" y1="350.5" x2="150.7" y2="309.4" stroke="#3a3a3a" stroke-width="0.80" stroke-dasharray="1.1,1.4"/>
<line x1="43.3" y1="328.3" x2="150.7" y2="287.3" stroke="#3a3a3a" stroke-width="0.80" stroke-dasharray="1.1,1.4"/>
<line x1="43.3" y1="306.2" x2="150.7" y2="265.1" stroke="#3a3a3a" stroke-width="0.80" stroke-dasharray="1.1,1.4"/>
<line x1="43.3" y1="284.0" x2="150.7" y2="243.0" stroke="#3a3a3a" stroke-width="0.80" stroke-dasharray="1.1,1.4"/>
<line x1="60.7" y1="433.7" x2="60.7" y2="277.4" stroke="#3a3a3a" stroke-width="0.80" stroke-dasharray="1.1,1.4"/>
<line x1="93.4" y1="421.2" x2="93.4" y2="264.9" stroke="#3a3a3a" stroke-width="0.80" stroke-dasharray="1.1,1.4"/>
<line x1="126.1" y1="408.7" x2="126.1" y2="252.4" stroke="#3a3a3a" stroke-width="0.80" stroke-dasharray="1.1,1.4"/>
<line x1="150.7" y1="375.9" x2="294.4" y2="410.5" stroke="#3a3a3a" stroke-width="0.80" stroke-dasharray="1.1,1.4"/>
<line x1="150.7" y1="353.7" x2="294.4" y2="388.3" stroke="#3a3a3a" stroke-width="0.80" stroke-dasharray="1.1,1.4"/>
<line x1="150.7" y1="331.6" x2="294.4" y2="366.2" stroke="#3a3a3a" stroke-width="0.80" stroke-dasharray="1.1,1.4"/>
<line x1="150.7" y1="309.4" x2="294.4" y2="344.0" stroke="#3a3a3a" stroke-width="0.80" stroke-dasharray="1.1,1.4"/>
<line x1="150.7" y1="287.3" x2="294.4" y2="321.9" stroke="#3a3a3a" stroke-width="0.80" stroke-dasharray="1.1,1.4"/>
<line x1="150.7" y1="265.1" x2="294.4" y2="299.7" stroke="#3a3a3a" stroke-width="0.80" stroke-dasharray="1.1,1.4"/>
<line x1="150.7" y1="243.0" x2="294.4" y2="277.6" stroke="#3a3a3a" stroke-width="0.80" stroke-dasharray="1.1,1.4"/>
<line x1="161.8" y1="401.9" x2="161.8" y2="245.7" stroke="#3a3a3a" stroke-width="0.80" stroke-dasharray="1.1,1.4"/>
<line x1="192.2" y1="409.3" x2="192.2" y2="253.0" stroke="#3a3a3a" stroke-width="0.80" stroke-dasharray="1.1,1.4"/>
<line x1="222.6" y1="416.6" x2="222.6" y2="260.3" stroke="#3a3a3a" stroke-width="0.80" stroke-dasharray="1.1,1.4"/>
<line x1="253.0" y1="423.9" x2="253.0" y2="267.6" stroke="#3a3a3a" stroke-width="0.80" stroke-dasharray="1.1,1.4"/>
<line x1="283.4" y1="431.2" x2="283.4" y2="275.0" stroke="#3a3a3a" stroke-width="0.80" stroke-dasharray="1.1,1.4"/>
<g stroke="#262626" stroke-width="1.3" fill="none">
<polyline points="43.5,269 43.5,440.3 185.7,475.4 301.3,432"/>
<line x1="43.5" y1="418.6" x2="39" y2="418.6"/>
<line x1="43.5" y1="396.2" x2="39" y2="396.2"/>
<line x1="43.5" y1="373.7" x2="39" y2="373.7"/>
<line x1="43.5" y1="351.3" x2="39" y2="351.3"/>
<line x1="43.5" y1="328.8" x2="39" y2="328.8"/>
<line x1="43.5" y1="306.4" x2="39" y2="306.4"/>
<line x1="43.5" y1="284.0" x2="39" y2="284.0"/>
<line x1="54.5" y1="443.0" x2="50.0" y2="444.8"/>
<line x1="84.6" y1="450.4" x2="80.1" y2="452.2"/>
<line x1="114.7" y1="457.9" x2="110.2" y2="459.7"/>
<line x1="144.8" y1="465.3" x2="140.3" y2="467.1"/>
<line x1="174.9" y1="472.7" x2="170.4" y2="474.5"/>
<line x1="203.1" y1="468.9" x2="207.6" y2="470.1"/>
<line x1="235.8" y1="456.6" x2="240.3" y2="457.8"/>
<line x1="268.5" y1="444.3" x2="273.0" y2="445.5"/>
</g>
<text x="35.6" y="422.3" font-size="10.4" text-anchor="end" fill="#222" font-family="Liberation Sans, sans-serif" font-weight="bold" >9</text>
<text x="35.6" y="399.9" font-size="10.4" text-anchor="end" fill="#222" font-family="Liberation Sans, sans-serif" font-weight="bold" >9.2</text>
<text x="35.6" y="377.4" font-size="10.4" text-anchor="end" fill="#222" font-family="Liberation Sans, sans-serif" font-weight="bold" >9.4</text>
<text x="35.6" y="355.0" font-size="10.4" text-anchor="end" fill="#222" font-family="Liberation Sans, sans-serif" font-weight="bold" >9.6</text>
<text x="35.6" y="332.5" font-size="10.4" text-anchor="end" fill="#222" font-family="Liberation Sans, sans-serif" font-weight="bold" >9.8</text>
<text x="35.6" y="310.1" font-size="10.4" text-anchor="end" fill="#222" font-family="Liberation Sans, sans-serif" font-weight="bold" >10</text>
<text x="35.6" y="287.7" font-size="10.4" text-anchor="end" fill="#222" font-family="Liberation Sans, sans-serif" font-weight="bold" >10.2</text>
<text x="36.3" y="455.9" font-size="10.4" text-anchor="middle" fill="#222" font-family="Liberation Sans, sans-serif" font-weight="bold" >8.5</text>
<text x="66.2" y="463.5" font-size="10.4" text-anchor="middle" fill="#222" font-family="Liberation Sans, sans-serif" font-weight="bold" >9</text>
<text x="97.0" y="470.7" font-size="10.4" text-anchor="middle" fill="#222" font-family="Liberation Sans, sans-serif" font-weight="bold" >9.5</text>
<text x="128.0" y="479.0" font-size="10.4" text-anchor="middle" fill="#222" font-family="Liberation Sans, sans-serif" font-weight="bold" >10</text>
<text x="158.3" y="486.3" font-size="10.4" text-anchor="middle" fill="#222" font-family="Liberation Sans, sans-serif" font-weight="bold" >10.5</text>
<text x="220.5" y="482.0" font-size="10.4" text-anchor="middle" fill="#222" font-family="Liberation Sans, sans-serif" font-weight="bold" >1.25</text>
<text x="254.6" y="467.9" font-size="10.4" text-anchor="middle" fill="#222" font-family="Liberation Sans, sans-serif" font-weight="bold" >1.5</text>
<text x="288.9" y="456.2" font-size="10.4" text-anchor="middle" fill="#222" font-family="Liberation Sans, sans-serif" font-weight="bold" >1.75</text>
<text x="86.7" y="494.4" font-size="12.0" text-anchor="middle" fill="#222" font-family="Liberation Sans, sans-serif" font-weight="bold" textLength="67" lengthAdjust="spacingAndGlyphs">Length (cm)</text>
<text x="275.8" y="494.2" font-size="12.0" text-anchor="middle" fill="#222" font-family="Liberation Sans, sans-serif" font-weight="bold" textLength="57.5" lengthAdjust="spacingAndGlyphs">Time (sec)</text>
<text x="0.0" y="0.0" font-size="12.0" text-anchor="middle" fill="#222" font-family="Liberation Sans, sans-serif" font-weight="bold" transform="translate(11.1,354.8) rotate(-90)" textLength="98.2" lengthAdjust="spacingAndGlyphs">Pressure (mmHg)</text>
<polygon points="88.8,317.6 205,274.4 205,406.5 88.8,451.7" fill="#fbe3a6" fill-opacity="0.55"/>
<polygon points="69.9,313.4 75.3,326.9 80.8,348.8 85.2,370.8 89.6,388.3 95.0,401.4 101.6,408.3 107.1,405.8 112.6,399.2 114.8,388.3 118.0,370.8 121.4,348.8 124.0,331.3 125.1,328.3" fill="#1170bf"/>
<g stroke="#8cc0e6" stroke-width="0.6" fill="none"><polyline points="88.5,320.3 92.9,337.9 103.8,352.1 111.5,353.2"/><polyline points="109.3,335.7 110.8,353.2 112.6,368.6 113.7,394.9"/><polyline points="115.9,326.9 112.6,353.2"/></g>
<linearGradient id="plg" gradientUnits="userSpaceOnUse" x1="0" y1="262" x2="0" y2="344"><stop offset="0.012" stop-color="#c2c2c2"/><stop offset="0.061" stop-color="#a8a8a8"/><stop offset="0.098" stop-color="#949494"/><stop offset="0.134" stop-color="#858585"/><stop offset="0.183" stop-color="#757575"/><stop offset="0.232" stop-color="#616161"/><stop offset="0.280" stop-color="#525252"/><stop offset="0.341" stop-color="#464646"/><stop offset="0.402" stop-color="#333333"/><stop offset="0.451" stop-color="#262626"/><stop offset="0.500" stop-color="#1f1f1f"/><stop offset="0.561" stop-color="#181818"/><stop offset="0.634" stop-color="#121212"/><stop offset="0.720" stop-color="#0d0d0d"/><stop offset="0.829" stop-color="#090909"/><stop offset="1.000" stop-color="#060606"/></linearGradient>
<filter id="bl2" x="-20%" y="-50%" width="140%" height="200%"><feGaussianBlur stdDeviation="2.2"/></filter>
<filter id="bl4" x="-50%" y="-50%" width="200%" height="200%"><feGaussianBlur stdDeviation="5"/></filter>
<filter id="jetC" filterUnits="userSpaceOnUse" x="35" y="255" width="275" height="95" color-interpolation-filters="sRGB"><feGaussianBlur stdDeviation="1.3"/><feComponentTransfer><feFuncR type="table" tableValues="0.020 0.000 0.000 0.450 1.000 1.000 0.950 0.620 0.360"/><feFuncG type="table" tableValues="0.020 0.920 0.860 0.880 0.900 0.400 0.000 0.030 0.100"/><feFuncB type="table" tableValues="0.970 0.980 0.150 0.000 0.000 0.000 0.050 0.350 0.550"/></feComponentTransfer></filter>
<clipPath id="plc"><polygon points="43.5,306.2 160.6,263 300.7,298.7 182.3,343.8"/></clipPath>
<g clip-path="url(#plc)"><g filter="url(#jetC)"><rect x="30" y="250" width="285" height="100" fill="url(#plg)"/>
<ellipse cx="62" cy="302" rx="48" ry="15" fill="#000" fill-opacity="0.38" filter="url(#bl4)"/>
<ellipse cx="95" cy="301" rx="22" ry="6" fill="#000" fill-opacity="0.3" filter="url(#bl4)"/>
<ellipse cx="292" cy="298" rx="42" ry="12" fill="#000" fill-opacity="0.35" filter="url(#bl4)"/>
</g>
<filter id="bl1" x="-20%" y="-50%" width="140%" height="200%"><feGaussianBlur stdDeviation="1.4"/></filter>
<polygon points="124,310.5 235,274 235,280.5 124,317" fill="#c43020" fill-opacity="0.7" filter="url(#bl1)"/>
<ellipse cx="72" cy="309" rx="10" ry="4" fill="#002080" fill-opacity="0.5" filter="url(#bl2)"/>
</g>
<polygon points="43.5,306.2 160.6,263 300.7,298.7 182.3,343.8" fill="none" stroke="#9a9a9a" stroke-width="1.6" stroke-linejoin="round"/>
<clipPath id="elc"><path d="M75.6,306.3 C75.4,302.4 85,302.2 99,302.5 C112,302.9 125,306 134,310 C142,313.5 142.3,320 136,321.5 C128,322.6 113,321 99,318.2 C88,315.8 75.8,311 75.6,306.3 Z"/></clipPath>
<g clip-path="url(#elc)"><rect x="70" y="298" width="80" height="28" fill="#6c5c5e"/>
<ellipse cx="88.0" cy="306.0" rx="6.0" ry="2.5" fill="#8a9ac0" fill-opacity="0.6" filter="url(#bl2)"/>
<ellipse cx="104.0" cy="305.0" rx="4.0" ry="1.8" fill="#8a9ac0" fill-opacity="0.6" filter="url(#bl2)"/>
<ellipse cx="128.0" cy="313.0" rx="5.0" ry="2.0" fill="#8a9ac0" fill-opacity="0.6" filter="url(#bl2)"/>
<ellipse cx="117.0" cy="318.0" rx="4.0" ry="1.5" fill="#8a9ac0" fill-opacity="0.6" filter="url(#bl2)"/>
<ellipse cx="95.0" cy="313.0" rx="3.0" ry="1.5" fill="#8a9ac0" fill-opacity="0.6" filter="url(#bl2)"/>
</g>
<path d="M75.6,306.3 C75.4,302.4 85,302.2 99,302.5 C112,302.9 125,306 134,310 C142,313.5 142.3,320 136,321.5 C128,322.6 113,321 99,318.2 C88,315.8 75.8,311 75.6,306.3 Z" fill="none" stroke="#c80000" stroke-width="2.4"/>
<ellipse cx="139" cy="318" rx="5" ry="2.5" fill="#000" fill-opacity="0.7" filter="url(#bl2)"/>
<ellipse cx="78" cy="303.5" rx="6" ry="2.5" fill="#000" fill-opacity="0.6" filter="url(#bl2)"/>
<g stroke="#c8941e" stroke-width="1.7" stroke-dasharray="3.4,2.3" fill="none"><polyline points="88.8,317.6 205,274.4 205,406.5 88.8,451.7 88.8,317.6"/></g>
<line x1="113.7" y1="359.8" x2="126.8" y2="373" stroke="#e00000" stroke-width="1.5"/>
<text x="129.5" y="380.8" font-size="12.0" text-anchor="start" font-family="Liberation Sans, sans-serif" font-weight="bold" fill="#111" textLength="38.3" lengthAdjust="spacingAndGlyphs">UESRI</text></svg></body></html>
